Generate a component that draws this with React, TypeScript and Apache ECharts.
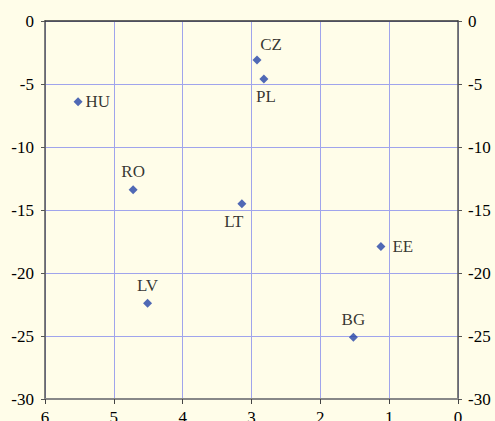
import React, { useEffect, useRef } from "react";
import * as echarts from "echarts";

const countries = ["HU", "CZ", "PL", "RO", "LT", "LV", "EE", "BG"];
const xValues = [5.52, 2.92, 2.82, 4.72, 3.14, 4.51, 1.12, 1.52];
const yValues = [-6.4, -3.1, -4.6, -13.4, -14.5, -22.4, -17.9, -25.1];
const labelPositions = ["right", "top", "bottom", "top", "bottom", "top", "right", "top"];
const xTicks = [0, 6, 1];
const yTicks = [-30, 0, 5];

export default function App() {
  const ref = useRef<HTMLDivElement>(null);
  useEffect(() => {
    if (!ref.current) return;
    const chart = echarts.init(ref.current, null, { renderer: "svg" });
    const font = "Liberation Serif";
    const data = countries.map((c, i) => {
      const pos = labelPositions[i];
      let offset = [0, 0];
      if (c === "CZ") offset = [14, 2];
      if (c === "LT") offset = [-8, 0];
      if (c === "PL") offset = [2, 0];
      if (c === "EE") offset = [4, 0];
      return {
        name: c,
        value: [xValues[i], yValues[i]],
        label: { position: pos, offset, distance: pos === "right" ? 3 : 5 },
      };
    });
    chart.setOption({
      animation: false,
      backgroundColor: "#FFFDE9",
      textStyle: { fontFamily: font },
      grid: {
        left: 45,
        right: 37,
        top: 21,
        bottom: 22,
        containLabel: false,
        outerBoundsMode: "none",
      },
      xAxis: [
        {
          type: "value",
          inverse: true,
          min: xTicks[0],
          max: xTicks[1],
          interval: xTicks[2],
          position: "bottom",
          axisLine: { show: true, onZero: false, lineStyle: { color: "#888888", width: 2 } },
          axisTick: { show: true, inside: false, length: 5, lineStyle: { color: "#444444" } },
          axisLabel: { color: "#000", fontSize: 17, fontFamily: font, margin: 10 },
          splitLine: { show: true, lineStyle: { color: "#A0A4EC", width: 1 } },
        },
        {
          type: "value",
          inverse: true,
          min: xTicks[0],
          max: xTicks[1],
          interval: xTicks[2],
          position: "top",
          axisLine: { show: true, onZero: false, lineStyle: { color: "#333333", width: 1.5 } },
          axisTick: { show: false },
          axisLabel: { show: false },
          splitLine: { show: false },
        },
      ],
      yAxis: [
        {
          type: "value",
          min: yTicks[0],
          max: yTicks[1],
          interval: yTicks[2],
          position: "left",
          axisLine: { show: true, onZero: false, lineStyle: { color: "#555555", width: 1.5 } },
          axisTick: { show: true, length: 4, lineStyle: { color: "#555555" } },
          axisLabel: { color: "#000", fontSize: 17, fontFamily: font, margin: 11 },
          splitLine: { show: true, lineStyle: { color: "#A0A4EC", width: 1 } },
        },
        {
          type: "value",
          min: yTicks[0],
          max: yTicks[1],
          interval: yTicks[2],
          position: "right",
          axisLine: { show: true, onZero: false, lineStyle: { color: "#555555", width: 1.5 } },
          axisTick: { show: true, length: 4, lineStyle: { color: "#555555" } },
          axisLabel: { color: "#000", fontSize: 17, fontFamily: font, margin: 10 },
          splitLine: { show: false },
        },
      ],
      series: [
        {
          type: "scatter",
          symbol: "diamond",
          symbolSize: 9,
          itemStyle: { color: "#2444A8" },
          data,
          label: {
            show: true,
            formatter: "{b}",
            color: "#000",
            fontSize: 17,
            fontFamily: font,
          },
        },
      ],
    });
    return () => chart.dispose();
  }, []);
  return <div ref={ref} style={{ width: 495, height: 421, position: "absolute", left: 0, top: 0 }} />;
}
